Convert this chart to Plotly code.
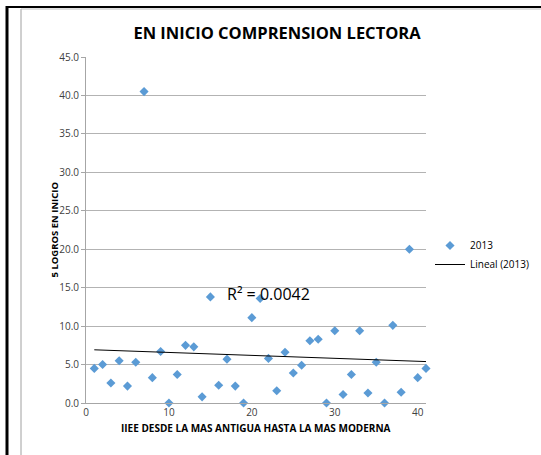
import numpy as np
import plotly.graph_objects as go

# Data
x_ie = list(range(1, 42))
logros_2013 = [4.5, 5.0, 2.6, 5.5, 2.2, 5.3, 40.5, 3.3, 6.7, 0.0,
               3.7, 7.5, 7.3, 0.8, 13.8, 2.3, 5.7, 2.2, 0.0, 11.1,
               13.6, 5.8, 1.6, 6.6, 3.9, 4.9, 8.1, 8.3, 0.0, 9.4,
               1.1, 3.7, 9.4, 1.3, 5.3, 0.0, 10.1, 1.4, 20.0, 3.3, 4.5]
y_ticks = [0, 5, 10, 15, 20, 25, 30, 35, 40, 45]
x_ticks = [0, 10, 20, 30, 40]
r2_label = "R² = 0.0042"

W, H = 541, 455
L, R, T, B = 86, 115, 57, 52
pw, ph = W - L - R, H - T - B

def px(xp):
    return (xp - L) / pw

def py(yp):
    return (H - B - yp) / ph

slope, intercept = np.polyfit(x_ie, logros_2013, 1)
tx = np.array([1, 41])
ty = slope * tx + intercept

fig = go.Figure()
fig.add_trace(go.Scatter(
    x=x_ie, y=logros_2013, mode="markers", name="2013",
    marker=dict(symbol="diamond", size=7, color="#5B9BD5"),
    cliponaxis=False,
))
fig.add_trace(go.Scatter(
    x=tx, y=ty, mode="lines", name="Lineal (2013)",
    line=dict(color="black", width=1),
))

font = "Open Sans, sans-serif"
fig.update_layout(
    width=W, height=H,
    margin=dict(l=L, r=R, t=T, b=B, autoexpand=False),
    paper_bgcolor="white", plot_bgcolor="white",
    font=dict(family=font, size=10, color="#404040"),
    title=dict(text="<b>EN INICIO COMPRENSION LECTORA</b>",
               x=277 / W, xanchor="center", y=1 - 33 / H, yanchor="middle",
               font=dict(family=font, size=16.5, color="black")),
    showlegend=True,
    legend=dict(x=px(430), y=py(231), xanchor="left", yanchor="top",
                font=dict(family=font, size=10, color="black"),
                bgcolor="rgba(0,0,0,0)", tracegroupgap=0, itemwidth=30),
    xaxis=dict(range=[0, 41], tickvals=x_ticks, showgrid=False,
               showline=True, linecolor="#a6a6a6", linewidth=1,
               ticks="", zeroline=False,
               tickfont=dict(family=font, size=10, color="#404040")),
    yaxis=dict(range=[0, 45], tickvals=y_ticks, tickformat=".1f",
               showgrid=True, gridcolor="#b3b3b3", gridwidth=1,
               showline=True, linecolor="#a6a6a6", linewidth=1,
               ticks="outside", ticklen=4, tickcolor="#a6a6a6",
               zeroline=False,
               tickfont=dict(family=font, size=10, color="#404040")),
)

fig.add_annotation(text=r2_label, x=px(268), y=py(307), xref="paper", yref="paper",
                   showarrow=False, font=dict(family=font, size=16, color="black"))
fig.add_annotation(text="<b>IIEE DESDE LA MAS ANTIGUA HASTA LA MAS MODERNA</b>",
                   x=px(256), y=py(437), xref="paper", yref="paper",
                   showarrow=False, font=dict(family=font, size=10, color="black"))
fig.add_annotation(text="<b>5 LOGROS EN INICIO</b>", textangle=-90,
                   x=px(45), y=py(230), xref="paper", yref="paper",
                   showarrow=False, font=dict(family=font, size=9.5, color="black"))

# frame lines
fig.add_shape(type="line", xref="paper", yref="paper",
              x0=px(7), x1=px(7), y0=py(6), y1=py(H), line=dict(color="black", width=3))
fig.add_shape(type="line", xref="paper", yref="paper",
              x0=px(6), x1=px(W), y0=py(7), y1=py(7), line=dict(color="black", width=2))
fig.add_shape(type="line", xref="paper", yref="paper",
              x0=px(21), x1=px(21), y0=py(9), y1=py(H), line=dict(color="#a0a0a0", width=1))
fig.add_shape(type="line", xref="paper", yref="paper",
              x0=px(21), x1=px(W), y0=py(9), y1=py(9), line=dict(color="#c0c0c0", width=1))

fig.write_html("out.html", config={"displayModeBar": False},
               post_script="document.body.style.margin='0';")
